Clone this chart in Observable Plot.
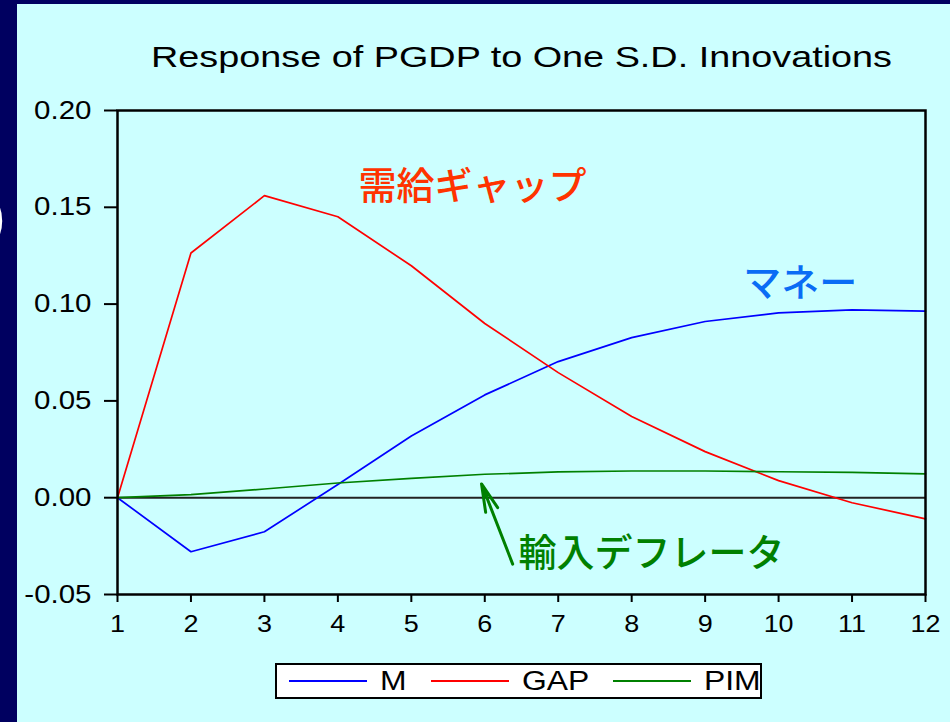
<!DOCTYPE html>
<html><head><meta charset="utf-8">
<script src="https://cdn.jsdelivr.net/npm/d3@7"></script>
<script src="https://cdn.jsdelivr.net/npm/@observablehq/plot@0.6"></script>
<style>
html,body{margin:0;padding:0;background:#000060;width:950px;height:722px;overflow:hidden;position:relative;}
#panel{position:absolute;left:17px;top:4px;width:933px;height:718px;background:#ccffff;}
#chart{position:absolute;left:0;top:0;}
#paren{position:absolute;left:-13px;top:183px;color:#fff;font:56px "Liberation Sans",Arial,sans-serif;}
#legend{position:absolute;left:275px;top:663px;width:487px;height:36px;box-sizing:border-box;border:2px solid #000;background:#fff;
  font-family:"Liberation Sans",Arial,sans-serif;font-size:27px;display:flex;align-items:center;padding-left:12px;}
.sw{width:78px;height:2px;margin-right:13px;flex:none;}
.lb{display:inline-block;transform-origin:left center;margin-right:24px;flex:none;white-space:nowrap;line-height:1;}
</style>
</head><body>
<div id="paren">)</div>
<div id="panel"></div>
<div id="chart"></div>
<div id="legend"></div>
<script>
const chartTitle = "Response of PGDP to One S.D. Innovations";
const periods = [1, 2, 3, 4, 5, 6, 7, 8, 9, 10, 11, 12];
const yTicks = [-0.05, 0, 0.05, 0.10, 0.15, 0.20];
const seriesNames = ["M", "GAP", "PIM"];
const seriesColors = ["#0000ff", "#ff0000", "#008000"];
const mValues   = [0, -0.0279, -0.0176, 0.0068, 0.0319, 0.0531, 0.0703, 0.0827, 0.0910, 0.0955, 0.0970, 0.0964];
const gapValues = [0, 0.1264, 0.1560, 0.1451, 0.1198, 0.0900, 0.0646, 0.0419, 0.0238, 0.0088, -0.0026, -0.0109];
const pimValues = [0, 0.0016, 0.0045, 0.0076, 0.0100, 0.0121, 0.0133, 0.0138, 0.0138, 0.0134, 0.0131, 0.0123];

// annotations (data coordinates)
const noteLabels = ["需給ギャップ", "マネー", "輸入デフレータ"];
const noteX = [4.28, 9.52, 6.46];
const noteY = [0.1606, 0.1104, -0.0291];
const noteColors = ["#ff3300", "#0a6cf5", "#008000"];
const arrowFrom = {x: 6.38, y: -0.0343};
const arrowTo = {x: 5.956, y: 0.0071};

const seriesValues = [mValues, gapValues, pimValues];
const data = seriesNames.flatMap((s, k) => periods.map((p, i) => ({period: p, value: seriesValues[k][i], series: s})));
const notes = noteLabels.map((t, i) => ({text: t, x: noteX[i], y: noteY[i], color: noteColors[i]}));

const chart = Plot.plot({
  width: 950, height: 722,
  marginLeft: 117, marginRight: 25, marginTop: 110, marginBottom: 128,
  style: {background: "transparent", fontFamily: '"Liberation Sans", Arial, sans-serif', color: "#000", overflow: "visible"},
  x: {domain: [1, 12]},
  y: {domain: [-0.05, 0.20]},
  color: {domain: seriesNames, range: seriesColors},
  marks: [
    Plot.ruleY([0], {stroke: "#222", strokeWidth: 2}),
    Plot.line(data, {x: "period", y: "value", z: "series", stroke: "series", strokeWidth: 1.7}),
    Plot.frame({stroke: "#000", strokeWidth: 2.5}),
    Plot.axisY(yTicks, {tickSize: 13, tickPadding: 13, fontSize: 25, tickFormat: d => d.toFixed(2), strokeWidth: 2, label: null}),
    Plot.axisX(periods, {tickSize: 8, tickPadding: 12, fontSize: 24, tickFormat: d => String(d), strokeWidth: 2, label: null}),
    Plot.text([chartTitle], {frameAnchor: "top", dy: -44, lineAnchor: "bottom", fontSize: 30, text: d => d, fill: "#000"}),
    Plot.text(notes, {x: "x", y: "y", text: "text", fill: d => d.color, fontSize: 38, fontWeight: 500, textAnchor: "start", lineAnchor: "middle",
      fontFamily: '"Noto Sans CJK JP", sans-serif'}),
    Plot.arrow([{}], {x1: () => arrowFrom.x, y1: () => arrowFrom.y, x2: () => arrowTo.x, y2: () => arrowTo.y,
      stroke: "#008000", strokeWidth: 3, headLength: 39, headAngle: 26})
  ]
});
document.getElementById("chart").appendChild(chart);

// horizontal stretch of Latin texts (the reference is stretched horizontally)
function stretchEl(t, f) {
  const L = t.getComputedTextLength();
  t.setAttribute("textLength", (L * f).toFixed(1));
  t.setAttribute("lengthAdjust", "spacingAndGlyphs");
}
chart.querySelectorAll('g[aria-label="y-axis tick label"] text').forEach(t => stretchEl(t, 1.18));
chart.querySelectorAll('g[aria-label="x-axis tick label"] text').forEach(t => stretchEl(t, 1.12));
chart.querySelectorAll('text').forEach(t => { if (t.textContent === chartTitle) stretchEl(t, 1.26); });

// legend
const legend = document.getElementById("legend");
seriesNames.forEach((s, i) => {
  const sw = document.createElement("span");
  sw.className = "sw";
  sw.style.background = seriesColors[i];
  const lb = document.createElement("span");
  lb.className = "lb";
  lb.textContent = s;
  legend.appendChild(sw);
  legend.appendChild(lb);
  const w = lb.getBoundingClientRect().width;
  lb.style.width = (w * 1.18) + "px";
  lb.style.transform = "scaleX(1.18)";
});
</script>
</body></html>
